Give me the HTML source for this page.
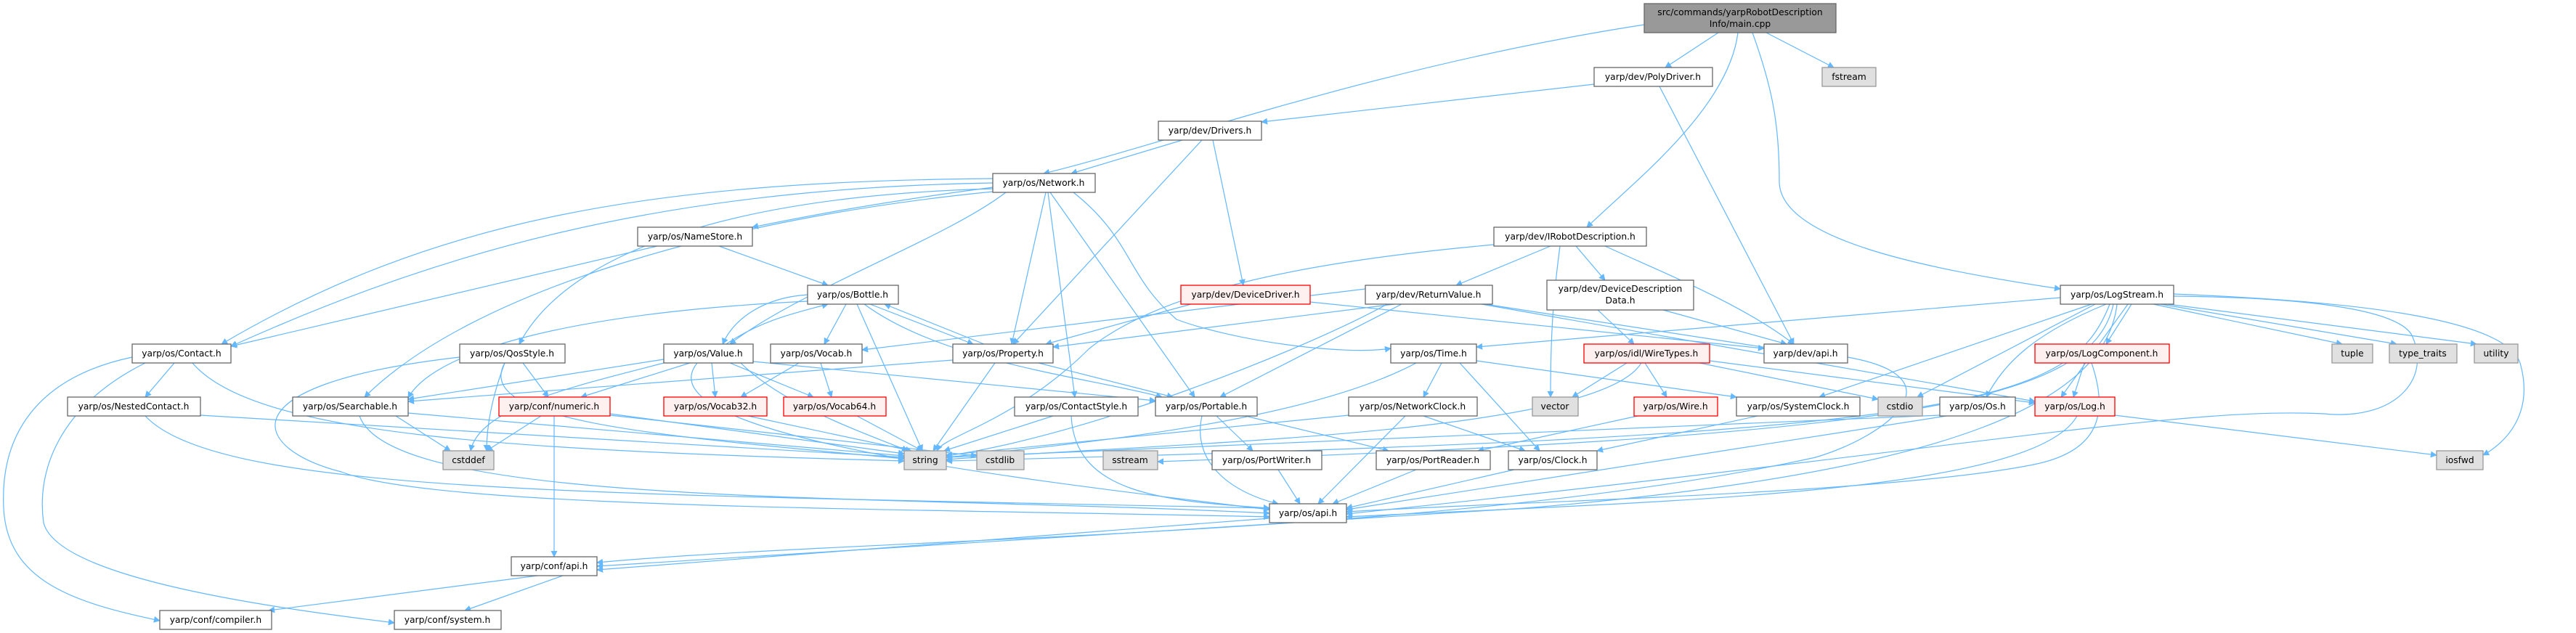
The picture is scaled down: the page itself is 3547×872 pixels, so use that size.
<!DOCTYPE html>
<html><head><meta charset="utf-8">
<style>
html,body{margin:0;padding:0;background:#fff;}
svg{display:block;}
text{font-family:"DejaVu Sans","Liberation Sans",sans-serif;font-size:12.3px;fill:#000;text-anchor:middle;}
.n rect{fill:#fff;stroke:#666;stroke-width:1.3;}
.g rect{fill:#e0e0e0;stroke:#999;stroke-width:1.3;}
.r rect{fill:#fff0f0;stroke:#f00;stroke-width:1.3;}
.m rect{fill:#999;stroke:#666;stroke-width:1.3;}
.e path{fill:none;stroke:#63b8ff;stroke-width:1.2;}
</style></head><body>
<svg width="3547" height="872" viewBox="0 0 3547 872" xmlns="http://www.w3.org/2000/svg">
<defs><marker id="a" viewBox="0 0 10 10" refX="9" refY="5" markerWidth="9" markerHeight="9" orient="auto" markerUnits="userSpaceOnUse"><path d="M0,0 L10,5 L0,10 z" fill="#63b8ff"/></marker></defs>
<g class="e" marker-end="url(#a)">
<path marker-end="url(#a)" d="M2264,34 C1900,90 1600,200 1437,239"/>
<path marker-end="url(#a)" d="M2366,45 L2293,93"/>
<path marker-end="url(#a)" d="M2393,45 C2380,150 2250,250 2185,313"/>
<path marker-end="url(#a)" d="M2432,45 L2525,93"/>
<path marker-end="url(#a)" d="M2413,45 C2440,120 2450,170 2450,250 C2450,330 2650,370 2837,398"/>
<path marker-end="url(#a)" d="M2195,116 L1737,168"/>
<path marker-end="url(#a)" d="M2285,119 L2470,474"/>
<path marker-end="url(#a)" d="M1628,193 L1475,239"/>
<path marker-end="url(#a)" d="M1655,193 L1395,474"/>
<path marker-end="url(#a)" d="M1670,193 L1712,393"/>
<path marker-end="url(#a)" d="M1367,246 C900,250 600,300 305,474"/>
<path marker-end="url(#a)" d="M1367,252 C900,260 600,350 318,477"/>
<path marker-end="url(#a)" d="M1367,258 C1200,280 1100,300 1036,313"/>
<path marker-end="url(#a)" d="M1367,260 C1000,270 780,350 715,474"/>
<path marker-end="url(#a)" d="M1385,265 C1300,330 1100,400 1005,474"/>
<path marker-end="url(#a)" d="M1367,264 C1000,300 650,400 502,547"/>
<path marker-end="url(#a)" d="M1440,265 L1393,474"/>
<path marker-end="url(#a)" d="M1443,265 L1480,547"/>
<path marker-end="url(#a)" d="M1446,265 L1645,547"/>
<path marker-end="url(#a)" d="M1478,265 C1560,330 1550,380 1620,440 C1700,470 1850,490 1915,480"/>
<path marker-end="url(#a)" d="M905,339 L318,477"/>
<path marker-end="url(#a)" d="M990,339 L1140,393"/>
<path marker-end="url(#a)" d="M1112,406 C1050,410 1010,440 995,474"/>
<path marker-end="url(#a)" d="M1000,474 C1050,440 1100,430 1140,419"/>
<path marker-end="url(#a)" d="M1165,419 L1135,474"/>
<path marker-end="url(#a)" d="M1112,415 C800,430 600,480 562,548"/>
<path marker-end="url(#a)" d="M1180,419 L1270,621"/>
<path marker-end="url(#a)" d="M1190,419 C1300,500 1500,520 1600,547"/>
<path marker-end="url(#a)" d="M1198,419 L1340,474"/>
<path marker-end="url(#a)" d="M1355,474 L1218,419"/>
<path marker-end="url(#a)" d="M914,495 L562,550"/>
<path marker-end="url(#a)" d="M950,500 L800,547"/>
<path marker-end="url(#a)" d="M980,500 L985,547"/>
<path marker-end="url(#a)" d="M1005,500 L1120,547"/>
<path marker-end="url(#a)" d="M1020,500 C1080,560 1200,600 1250,621"/>
<path marker-end="url(#a)" d="M914,500 C800,530 660,560 648,621"/>
<path marker-end="url(#a)" d="M1037,498 L1591,552"/>
<path marker-end="url(#a)" d="M960,500 C880,600 1400,660 1748,702"/>
<path marker-end="url(#a)" d="M1100,500 L1020,547"/>
<path marker-end="url(#a)" d="M1130,500 L1145,547"/>
<path marker-end="url(#a)" d="M1312,496 L562,553"/>
<path marker-end="url(#a)" d="M1370,500 L1285,621"/>
<path marker-end="url(#a)" d="M1430,500 L1615,547"/>
<path marker-end="url(#a)" d="M1880,398 L1187,482"/>
<path marker-end="url(#a)" d="M240,500 L200,547"/>
<path marker-end="url(#a)" d="M182,492 C50,520 0,600 5,700 C10,800 100,830 220,855"/>
<path marker-end="url(#a)" d="M200,500 C80,560 50,650 60,720 C80,800 400,840 543,858"/>
<path marker-end="url(#a)" d="M265,500 C350,600 700,620 1245,635"/>
<path marker-end="url(#a)" d="M276,572 L1245,630"/>
<path marker-end="url(#a)" d="M200,573 C300,680 800,680 1748,700"/>
<path marker-end="url(#a)" d="M545,573 L620,621"/>
<path marker-end="url(#a)" d="M495,573 C540,700 1200,680 1748,707"/>
<path marker-end="url(#a)" d="M562,569 L1245,628"/>
<path marker-end="url(#a)" d="M633,492 C300,530 350,620 470,650 C600,700 1200,700 1748,712"/>
<path marker-end="url(#a)" d="M720,500 L755,547"/>
<path marker-end="url(#a)" d="M695,500 C680,540 670,580 670,621"/>
<path marker-end="url(#a)" d="M695,500 C650,580 900,600 1245,632"/>
<path marker-end="url(#a)" d="M745,573 L670,621"/>
<path marker-end="url(#a)" d="M763,573 L763,767"/>
<path marker-end="url(#a)" d="M840,570 L1245,625"/>
<path marker-end="url(#a)" d="M840,572 L1345,628"/>
<path marker-end="url(#a)" d="M1030,573 L1255,621"/>
<path marker-end="url(#a)" d="M1180,573 L1270,621"/>
<path marker-end="url(#a)" d="M1450,573 L1300,621"/>
<path marker-end="url(#a)" d="M1475,573 C1480,680 1600,690 1748,700"/>
<path marker-end="url(#a)" d="M1675,573 L1725,621"/>
<path marker-end="url(#a)" d="M1715,573 L1912,621"/>
<path marker-end="url(#a)" d="M1655,573 C1640,640 1700,680 1760,694"/>
<path marker-end="url(#a)" d="M1760,647 L1790,694"/>
<path marker-end="url(#a)" d="M1950,647 L1835,694"/>
<path marker-end="url(#a)" d="M2085,647 L1854,700"/>
<path marker-end="url(#a)" d="M1857,572 L1303,627"/>
<path marker-end="url(#a)" d="M1935,573 L1815,694"/>
<path marker-end="url(#a)" d="M1960,573 L2100,621"/>
<path marker-end="url(#a)" d="M1985,500 L1960,547"/>
<path marker-end="url(#a)" d="M2010,500 L2120,621"/>
<path marker-end="url(#a)" d="M2033,497 L2391,547"/>
<path marker-end="url(#a)" d="M1950,500 C1800,580 1500,610 1303,630"/>
<path marker-end="url(#a)" d="M2240,500 L2165,547"/>
<path marker-end="url(#a)" d="M2265,500 L2295,547"/>
<path marker-end="url(#a)" d="M2354,497 L2802,555"/>
<path marker-end="url(#a)" d="M2260,500 C2200,600 1600,610 1303,633"/>
<path marker-end="url(#a)" d="M2340,500 L2586,550"/>
<path marker-end="url(#a)" d="M2255,573 L2035,621"/>
<path marker-end="url(#a)" d="M2057,337 C1800,360 1600,400 1500,480 C1400,580 1300,600 1290,621"/>
<path marker-end="url(#a)" d="M2135,339 L2005,393"/>
<path marker-end="url(#a)" d="M2148,339 C2140,400 2135,450 2135,547"/>
<path marker-end="url(#a)" d="M2170,339 L2210,386"/>
<path marker-end="url(#a)" d="M2210,339 C2300,380 2400,420 2470,474"/>
<path marker-end="url(#a)" d="M1920,419 L1450,478"/>
<path marker-end="url(#a)" d="M1930,419 L1680,547"/>
<path marker-end="url(#a)" d="M2045,419 L2440,480"/>
<path marker-end="url(#a)" d="M2040,419 L2802,553"/>
<path marker-end="url(#a)" d="M1910,419 C1800,480 1500,600 1303,628"/>
<path marker-end="url(#a)" d="M2200,427 L2250,474"/>
<path marker-end="url(#a)" d="M2290,427 L2460,474"/>
<path marker-end="url(#a)" d="M1640,419 L1440,474"/>
<path marker-end="url(#a)" d="M1804,416 L2429,480"/>
<path marker-end="url(#a)" d="M2837,410 L2033,478"/>
<path marker-end="url(#a)" d="M2880,419 L2505,547"/>
<path marker-end="url(#a)" d="M2885,419 L2640,547"/>
<path marker-end="url(#a)" d="M2900,419 C2800,460 2760,500 2735,547"/>
<path marker-end="url(#a)" d="M2905,419 C2850,560 2700,600 1303,635"/>
<path marker-end="url(#a)" d="M2910,419 C2880,560 2600,600 1594,636"/>
<path marker-end="url(#a)" d="M2930,419 L2838,547"/>
<path marker-end="url(#a)" d="M2935,419 L2900,474"/>
<path marker-end="url(#a)" d="M2965,419 L3225,474"/>
<path marker-end="url(#a)" d="M2975,419 L3300,474"/>
<path marker-end="url(#a)" d="M2985,419 L3410,474"/>
<path marker-end="url(#a)" d="M2993,408 C3200,410 3300,430 3320,460 C3350,520 3300,580 3200,570 C3000,560 2700,620 1854,708"/>
<path marker-end="url(#a)" d="M2993,405 C3250,415 3450,440 3470,500 C3490,570 3450,610 3419,627"/>
<path marker-end="url(#a)" d="M2915,419 C2900,550 2700,650 2100,700 C1500,740 1000,770 822,780"/>
<path marker-end="url(#a)" d="M2870,500 L2855,547"/>
<path marker-end="url(#a)" d="M2880,500 C2900,560 2900,620 2800,640 C2600,680 2100,690 1854,705"/>
<path marker-end="url(#a)" d="M2860,573 C2800,680 2300,690 1854,712"/>
<path marker-end="url(#a)" d="M2912,572 L3355,627"/>
<path marker-end="url(#a)" d="M2671,572 L1303,630"/>
<path marker-end="url(#a)" d="M2680,573 L1854,702"/>
<path marker-end="url(#a)" d="M2420,573 L2199,621"/>
<path marker-end="url(#a)" d="M2544,492 C2700,520 2600,600 2500,630 C2000,740 1200,740 822,775"/>
<path marker-end="url(#a)" d="M1748,714 L822,785"/>
<path marker-end="url(#a)" d="M740,793 L370,841"/>
<path marker-end="url(#a)" d="M775,793 L640,841"/>
</g>

<g class="m"><rect x="2264" y="5" width="264" height="40"/><text x="2396" y="21">src/commands/yarpRobotDescription</text><text x="2396" y="37">Info/main.cpp</text></g>
<g class="n"><rect x="2195" y="93" width="163" height="26"/><text x="2276" y="110">yarp/dev/PolyDriver.h</text></g>
<g class="g"><rect x="2509" y="93" width="74" height="26"/><text x="2546" y="110">fstream</text></g>
<g class="n"><rect x="1595" y="167" width="142" height="26"/><text x="1666" y="184">yarp/dev/Drivers.h</text></g>
<g class="n"><rect x="1367" y="239" width="141" height="26"/><text x="1437" y="256">yarp/os/Network.h</text></g>
<g class="n"><rect x="878" y="313" width="158" height="26"/><text x="957" y="330">yarp/os/NameStore.h</text></g>
<g class="n"><rect x="2057" y="313" width="210" height="26"/><text x="2162" y="330">yarp/dev/IRobotDescription.h</text></g>
<g class="n"><rect x="1112" y="393" width="125" height="26"/><text x="1174" y="410">yarp/os/Bottle.h</text></g>
<g class="r"><rect x="1626" y="393" width="178" height="26"/><text x="1715" y="410">yarp/dev/DeviceDriver.h</text></g>
<g class="n"><rect x="1880" y="393" width="175" height="26"/><text x="1967" y="410">yarp/dev/ReturnValue.h</text></g>
<g class="n"><rect x="2130" y="386" width="202" height="41"/><text x="2231" y="402">yarp/dev/DeviceDescription</text><text x="2231" y="418">Data.h</text></g>
<g class="n"><rect x="2837" y="393" width="156" height="26"/><text x="2915" y="410">yarp/os/LogStream.h</text></g>

<g class="n"><rect x="182" y="474" width="136" height="26"/><text x="250" y="491">yarp/os/Contact.h</text></g>
<g class="n"><rect x="633" y="474" width="145" height="26"/><text x="705" y="491">yarp/os/QosStyle.h</text></g>
<g class="n"><rect x="914" y="474" width="123" height="26"/><text x="975" y="491">yarp/os/Value.h</text></g>
<g class="n"><rect x="1061" y="474" width="126" height="26"/><text x="1124" y="491">yarp/os/Vocab.h</text></g>
<g class="n"><rect x="1312" y="474" width="138" height="26"/><text x="1381" y="491">yarp/os/Property.h</text></g>
<g class="n"><rect x="1915" y="474" width="118" height="26"/><text x="1974" y="491">yarp/os/Time.h</text></g>
<g class="r"><rect x="2181" y="474" width="173" height="26"/><text x="2267" y="491">yarp/os/idl/WireTypes.h</text></g>
<g class="n"><rect x="2429" y="474" width="115" height="26"/><text x="2486" y="491">yarp/dev/api.h</text></g>
<g class="r"><rect x="2802" y="474" width="185" height="26"/><text x="2894" y="491">yarp/os/LogComponent.h</text></g>
<g class="g"><rect x="3211" y="474" width="56" height="26"/><text x="3239" y="491">tuple</text></g>
<g class="g"><rect x="3290" y="474" width="93" height="26"/><text x="3336" y="491">type_traits</text></g>
<g class="g"><rect x="3407" y="474" width="60" height="26"/><text x="3437" y="491">utility</text></g>

<g class="n"><rect x="93" y="547" width="183" height="26"/><text x="184" y="564">yarp/os/NestedContact.h</text></g>
<g class="n"><rect x="403" y="547" width="159" height="26"/><text x="482" y="564">yarp/os/Searchable.h</text></g>
<g class="r"><rect x="687" y="547" width="153" height="26"/><text x="763" y="564">yarp/conf/numeric.h</text></g>
<g class="r"><rect x="914" y="547" width="142" height="26"/><text x="985" y="564">yarp/os/Vocab32.h</text></g>
<g class="r"><rect x="1079" y="547" width="141" height="26"/><text x="1149" y="564">yarp/os/Vocab64.h</text></g>
<g class="n"><rect x="1397" y="547" width="170" height="26"/><text x="1482" y="564">yarp/os/ContactStyle.h</text></g>
<g class="n"><rect x="1591" y="547" width="140" height="26"/><text x="1661" y="564">yarp/os/Portable.h</text></g>
<g class="n"><rect x="1857" y="547" width="177" height="26"/><text x="1945" y="564">yarp/os/NetworkClock.h</text></g>
<g class="g"><rect x="2110" y="547" width="63" height="26"/><text x="2141" y="564">vector</text></g>
<g class="r"><rect x="2250" y="547" width="115" height="26"/><text x="2307" y="564">yarp/os/Wire.h</text></g>
<g class="n"><rect x="2391" y="547" width="170" height="26"/><text x="2476" y="564">yarp/os/SystemClock.h</text></g>
<g class="g"><rect x="2586" y="547" width="61" height="26"/><text x="2616" y="564">cstdio</text></g>
<g class="n"><rect x="2671" y="547" width="104" height="26"/><text x="2723" y="564">yarp/os/Os.h</text></g>
<g class="r"><rect x="2802" y="547" width="110" height="26"/><text x="2857" y="564">yarp/os/Log.h</text></g>

<g class="g"><rect x="610" y="621" width="70" height="26"/><text x="645" y="638">cstddef</text></g>
<g class="g"><rect x="1245" y="621" width="58" height="26"/><text x="1274" y="638">string</text></g>
<g class="g"><rect x="1345" y="621" width="65" height="26"/><text x="1377" y="638">cstdlib</text></g>
<g class="g"><rect x="1519" y="621" width="75" height="26"/><text x="1556" y="638">sstream</text></g>
<g class="n"><rect x="1669" y="621" width="151" height="26"/><text x="1744" y="638">yarp/os/PortWriter.h</text></g>
<g class="n"><rect x="1895" y="621" width="157" height="26"/><text x="1973" y="638">yarp/os/PortReader.h</text></g>
<g class="n"><rect x="2077" y="621" width="122" height="26"/><text x="2138" y="638">yarp/os/Clock.h</text></g>
<g class="g"><rect x="3355" y="621" width="64" height="26"/><text x="3387" y="638">iosfwd</text></g>

<g class="n"><rect x="1748" y="694" width="106" height="26"/><text x="1801" y="711">yarp/os/api.h</text></g>
<g class="n"><rect x="704" y="767" width="118" height="26"/><text x="763" y="784">yarp/conf/api.h</text></g>
<g class="n"><rect x="220" y="841" width="154" height="26"/><text x="297" y="858">yarp/conf/compiler.h</text></g>
<g class="n"><rect x="543" y="841" width="147" height="26"/><text x="616" y="858">yarp/conf/system.h</text></g>
</svg>
</body></html>
